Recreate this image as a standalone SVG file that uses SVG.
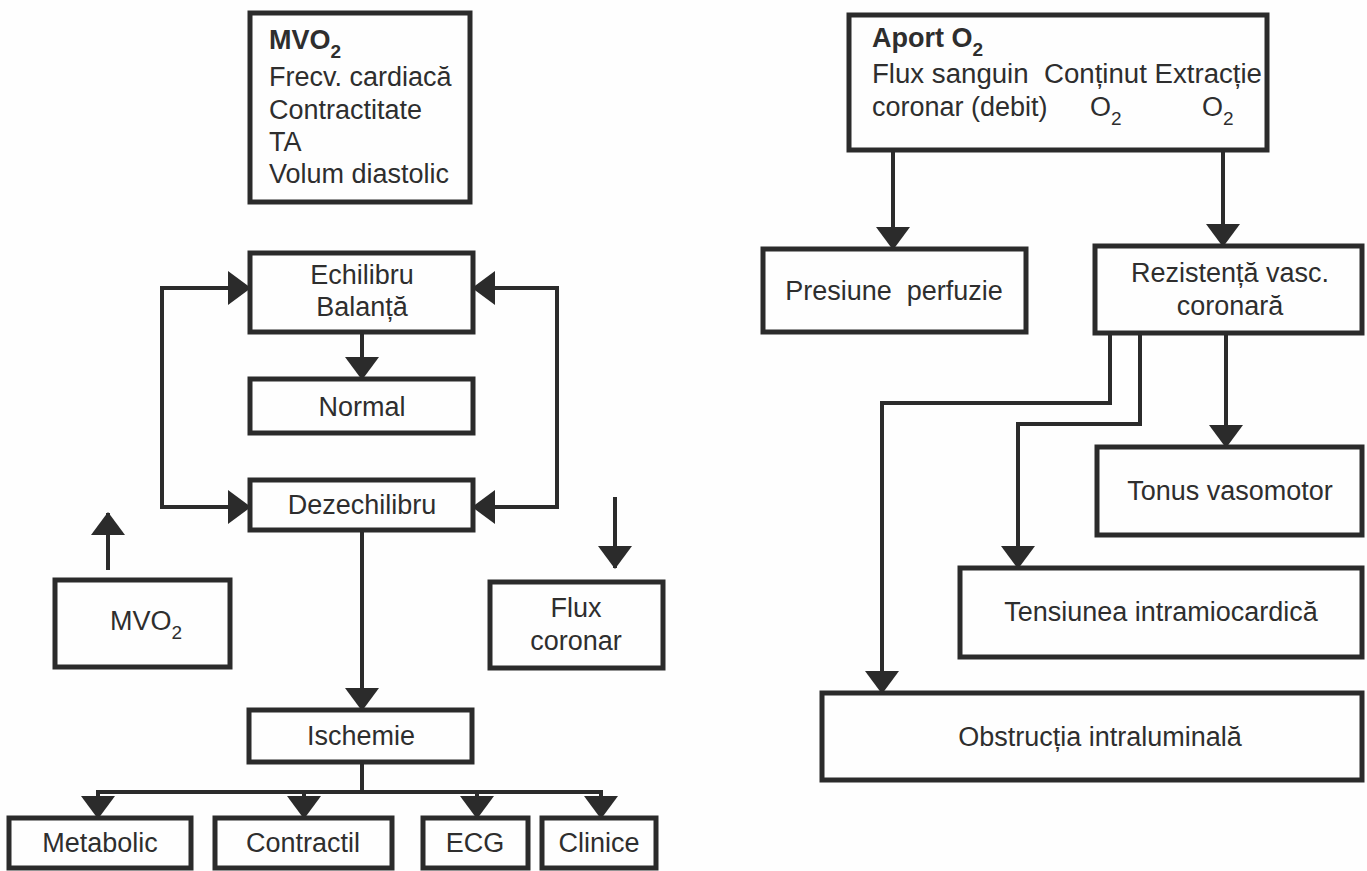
<svg xmlns="http://www.w3.org/2000/svg" width="1367" height="871" viewBox="0 0 1367 871">
<defs>
<marker id="ah" markerUnits="userSpaceOnUse" viewBox="0 0 23 34" markerWidth="23" markerHeight="34" refX="22" refY="17" orient="auto">
<path d="M0,0 L23,17 L0,34 z" fill="#2b2b2b"/>
</marker>
<style>
.box{fill:none;stroke:#2b2b2b;stroke-width:5}
.ln{fill:none;stroke:#2b2b2b;stroke-width:4}
.t{font-family:"Liberation Sans",Arial,sans-serif;font-size:27px;fill:#2e2e2e;white-space:pre}
.c{text-anchor:middle}
.b{font-weight:bold}
.s{font-size:19px}
</style>
</defs>
<rect width="1367" height="871" fill="#fefefe"/>
<g id="connectors">
<path class="ln" d="M362,332 V379" marker-end="url(#ah)"/>
<path class="ln" d="M250,288 H162 V507 H250" marker-end="url(#ah)"/>
<path class="ln" d="M162,288 H250" marker-end="url(#ah)"/>
<path class="ln" d="M473,288 H557 V507 H473" marker-end="url(#ah)"/>
<path class="ln" d="M557,288 H473" marker-end="url(#ah)"/>
<path class="ln" d="M362,530 V710" marker-end="url(#ah)"/>
<path class="ln" d="M108,570 V513" marker-end="url(#ah)"/>
<path class="ln" d="M615,497 V568" marker-end="url(#ah)"/>
<path class="ln" d="M362,762 V792 M96,792 H603"/>
<path class="ln" d="M98,790 V818" marker-end="url(#ah)"/>
<path class="ln" d="M304,790 V818" marker-end="url(#ah)"/>
<path class="ln" d="M477,790 V818" marker-end="url(#ah)"/>
<path class="ln" d="M601,790 V818" marker-end="url(#ah)"/>
<path class="ln" d="M893,150 V249" marker-end="url(#ah)"/>
<path class="ln" d="M1223,150 V246" marker-end="url(#ah)"/>
<path class="ln" d="M1110,333 V403 H882 V693" marker-end="url(#ah)"/>
<path class="ln" d="M1140,333 V424 H1018 V568" marker-end="url(#ah)"/>
<path class="ln" d="M1226,333 V447" marker-end="url(#ah)"/>
</g>
<g id="mvo2-factors">
<rect class="box" x="250" y="13" width="220" height="189"/>
<text class="t b" x="269" y="49">MVO<tspan class="s" dy="9">2</tspan></text>
<text class="t" x="269" y="86">Frecv. cardiacă</text>
<text class="t" x="269" y="119">Contractitate</text>
<text class="t" x="269" y="151">TA</text>
<text class="t" x="269" y="183">Volum diastolic</text>
</g>
<g id="echilibru">
<rect class="box" x="250" y="253" width="223" height="79"/>
<text class="t c" x="362" y="284">Echilibru</text>
<text class="t c" x="362" y="316">Balanță</text>
</g>
<g id="normal">
<rect class="box" x="250" y="379" width="223" height="54"/>
<text class="t c" x="362" y="416">Normal</text>
</g>
<g id="dezechilibru">
<rect class="box" x="250" y="480" width="223" height="50"/>
<text class="t c" x="362" y="514">Dezechilibru</text>
</g>
<g id="mvo2">
<rect class="box" x="55" y="580" width="175" height="87"/>
<text class="t" x="110" y="630">MVO<tspan class="s" dy="9">2</tspan></text>
</g>
<g id="flux-coronar">
<rect class="box" x="490" y="582" width="173" height="86"/>
<text class="t c" x="576" y="617">Flux</text>
<text class="t c" x="576" y="650">coronar</text>
</g>
<g id="ischemie">
<rect class="box" x="249" y="710" width="223" height="52"/>
<text class="t c" x="361" y="745">Ischemie</text>
</g>
<g id="metabolic">
<rect class="box" x="9" y="818" width="182" height="50"/>
<text class="t c" x="100" y="852">Metabolic</text>
</g>
<g id="contractil">
<rect class="box" x="215" y="818" width="177" height="50"/>
<text class="t c" x="303" y="852">Contractil</text>
</g>
<g id="ecg">
<rect class="box" x="423" y="818" width="105" height="50"/>
<text class="t c" x="475" y="852">ECG</text>
</g>
<g id="clinice">
<rect class="box" x="542" y="818" width="114" height="50"/>
<text class="t c" x="599" y="852">Clinice</text>
</g>
<g id="aport-o2">
<rect class="box" x="849" y="15" width="418" height="135"/>
<text class="t b" x="872" y="47">Aport O<tspan class="s" dy="9">2</tspan></text>
<text class="t" x="872" y="83" textLength="390" lengthAdjust="spacingAndGlyphs">Flux sanguin  Conținut Extracție</text>
<text class="t" x="872" y="116">coronar (debit)</text>
<text class="t" x="1090" y="116">O<tspan class="s" dy="9">2</tspan></text>
<text class="t" x="1202" y="116">O<tspan class="s" dy="9">2</tspan></text>
</g>
<g id="presiune">
<rect class="box" x="763" y="249" width="263" height="83"/>
<text class="t c" x="894" y="300">Presiune  perfuzie</text>
</g>
<g id="rezistenta">
<rect class="box" x="1095" y="246" width="267" height="87"/>
<text class="t c" x="1230" y="282">Rezistență vasc.</text>
<text class="t c" x="1230" y="315">coronară</text>
</g>
<g id="tonus">
<rect class="box" x="1097" y="447" width="265" height="88"/>
<text class="t c" x="1230" y="500">Tonus vasomotor</text>
</g>
<g id="tensiunea">
<rect class="box" x="960" y="568" width="402" height="89"/>
<text class="t c" x="1161" y="621">Tensiunea intramiocardică</text>
</g>
<g id="obstructia">
<rect class="box" x="822" y="693" width="540" height="87"/>
<text class="t c" x="1100" y="746">Obstrucția intraluminală</text>
</g>
</svg>
